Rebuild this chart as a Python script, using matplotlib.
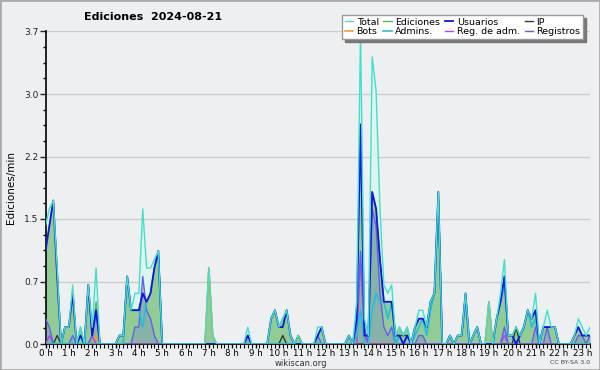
import numpy as np
import matplotlib
matplotlib.use("Agg")
import matplotlib.pyplot as plt
from matplotlib.patches import Rectangle

# edits per minute, 10-minute slots, 0:00 .. 23:20 (one row per hour)
total = [1.4, 1.6, 1.7, 0.9, 0.0, 0.2,
         0.2, 0.7, 0.0, 0.2, 0.0, 0.7,
         0.2, 0.9, 0.0, 0.0, 0.0, 0.0,
         0.0, 0.1, 0.1, 0.8, 0.4, 0.6,
         0.6, 1.6, 0.9, 0.9, 1.0, 1.1,
         0.0, 0.0, 0.0, 0.0, 0.0, 0.0,
         0.0, 0.0, 0.0, 0.0, 0.0, 0.0,
         0.9, 0.1, 0.0, 0.0, 0.0, 0.0,
         0.0, 0.0, 0.0, 0.0, 0.2, 0.0,
         0.0, 0.0, 0.0, 0.0, 0.3, 0.4,
         0.2, 0.3, 0.4, 0.1, 0.0, 0.1,
         0.0, 0.0, 0.0, 0.0, 0.2, 0.2,
         0.0, 0.0, 0.0, 0.0, 0.0, 0.0,
         0.1, 0.0, 0.5, 3.7, 0.3, 0.1,
         3.4, 3.0, 1.6, 0.7, 0.6, 0.7,
         0.1, 0.2, 0.1, 0.2, 0.0, 0.2,
         0.4, 0.4, 0.2, 0.5, 0.6, 1.8,
         0.0, 0.0, 0.1, 0.0, 0.1, 0.1,
         0.6, 0.0, 0.1, 0.2, 0.0, 0.0,
         0.5, 0.0, 0.3, 0.6, 1.0, 0.1,
         0.1, 0.2, 0.1, 0.2, 0.4, 0.3,
         0.6, 0.0, 0.2, 0.4, 0.2, 0.2,
         0.0, 0.0, 0.0, 0.0, 0.1, 0.3,
         0.2, 0.1, 0.2]

edits = [1.1, 1.4, 1.7, 0.9, 0.0, 0.2,
         0.2, 0.6, 0.0, 0.2, 0.0, 0.7,
         0.1, 0.5, 0.0, 0.0, 0.0, 0.0,
         0.0, 0.1, 0.1, 0.8, 0.4, 0.4,
         0.4, 0.6, 0.5, 0.6, 0.9, 1.1,
         0.0, 0.0, 0.0, 0.0, 0.0, 0.0,
         0.0, 0.0, 0.0, 0.0, 0.0, 0.0,
         0.9, 0.1, 0.0, 0.0, 0.0, 0.0,
         0.0, 0.0, 0.0, 0.0, 0.1, 0.0,
         0.0, 0.0, 0.0, 0.0, 0.3, 0.4,
         0.2, 0.3, 0.4, 0.1, 0.0, 0.1,
         0.0, 0.0, 0.0, 0.0, 0.1, 0.2,
         0.0, 0.0, 0.0, 0.0, 0.0, 0.0,
         0.1, 0.0, 0.3, 2.6, 0.1, 0.1,
         1.8, 1.6, 1.0, 0.5, 0.5, 0.5,
         0.1, 0.2, 0.1, 0.2, 0.0, 0.2,
         0.3, 0.3, 0.2, 0.5, 0.6, 1.8,
         0.0, 0.0, 0.1, 0.0, 0.1, 0.1,
         0.6, 0.0, 0.1, 0.2, 0.0, 0.0,
         0.5, 0.0, 0.3, 0.5, 0.8, 0.1,
         0.1, 0.2, 0.1, 0.2, 0.4, 0.3,
         0.4, 0.0, 0.2, 0.2, 0.2, 0.2,
         0.0, 0.0, 0.0, 0.0, 0.1, 0.2,
         0.1, 0.1, 0.1]

users = [1.1, 1.4, 1.7, 0.8, 0.0, 0.2,
         0.2, 0.6, 0.0, 0.1, 0.0, 0.7,
         0.1, 0.4, 0.0, 0.0, 0.0, 0.0,
         0.0, 0.1, 0.1, 0.8, 0.4, 0.4,
         0.4, 0.6, 0.5, 0.6, 0.9, 1.1,
         0.0, 0.0, 0.0, 0.0, 0.0, 0.0,
         0.0, 0.0, 0.0, 0.0, 0.0, 0.0,
         0.0, 0.0, 0.0, 0.0, 0.0, 0.0,
         0.0, 0.0, 0.0, 0.0, 0.1, 0.0,
         0.0, 0.0, 0.0, 0.0, 0.3, 0.4,
         0.2, 0.2, 0.4, 0.1, 0.0, 0.0,
         0.0, 0.0, 0.0, 0.0, 0.1, 0.2,
         0.0, 0.0, 0.0, 0.0, 0.0, 0.0,
         0.1, 0.0, 0.3, 2.6, 0.1, 0.1,
         1.8, 1.6, 1.0, 0.5, 0.5, 0.5,
         0.1, 0.1, 0.0, 0.1, 0.0, 0.2,
         0.3, 0.3, 0.2, 0.5, 0.6, 1.8,
         0.0, 0.0, 0.1, 0.0, 0.1, 0.1,
         0.6, 0.0, 0.1, 0.2, 0.0, 0.0,
         0.0, 0.0, 0.3, 0.5, 0.8, 0.1,
         0.1, 0.0, 0.1, 0.2, 0.4, 0.3,
         0.4, 0.0, 0.2, 0.2, 0.2, 0.2,
         0.0, 0.0, 0.0, 0.0, 0.1, 0.2,
         0.1, 0.1, 0.1]

ip = [0.0, 0.0, 0.0, 0.1, 0.0, 0.0,
      0.0, 0.0, 0.0, 0.1, 0.0, 0.0,
      0.0, 0.0, 0.0, 0.0, 0.0, 0.0,
      0.0, 0.0, 0.0, 0.0, 0.0, 0.0,
      0.0, 0.0, 0.0, 0.0, 0.0, 0.0,
      0.0, 0.0, 0.0, 0.0, 0.0, 0.0,
      0.0, 0.0, 0.0, 0.0, 0.0, 0.0,
      0.0, 0.0, 0.0, 0.0, 0.0, 0.0,
      0.0, 0.0, 0.0, 0.0, 0.0, 0.0,
      0.0, 0.0, 0.0, 0.0, 0.0, 0.0,
      0.0, 0.1, 0.0, 0.0, 0.0, 0.1,
      0.0, 0.0, 0.0, 0.0, 0.0, 0.0,
      0.0, 0.0, 0.0, 0.0, 0.0, 0.0,
      0.0, 0.0, 0.0, 0.0, 0.0, 0.0,
      0.0, 0.0, 0.0, 0.0, 0.0, 0.0,
      0.0, 0.1, 0.1, 0.1, 0.0, 0.0,
      0.0, 0.0, 0.0, 0.0, 0.0, 0.0,
      0.0, 0.0, 0.0, 0.0, 0.0, 0.0,
      0.0, 0.0, 0.0, 0.0, 0.0, 0.0,
      0.0, 0.0, 0.0, 0.0, 0.0, 0.0,
      0.0, 0.2, 0.0, 0.0, 0.0, 0.0,
      0.0, 0.0, 0.0, 0.0, 0.0, 0.0,
      0.0, 0.0, 0.0, 0.0, 0.0, 0.0,
      0.0, 0.0, 0.0]

bots = [0.0, 0.0, 0.0, 0.0, 0.0, 0.0,
        0.0, 0.0, 0.0, 0.0, 0.0, 0.0,
        0.0, 0.1, 0.0, 0.0, 0.0, 0.0,
        0.0, 0.0, 0.0, 0.0, 0.0, 0.0,
        0.0, 0.0, 0.0, 0.0, 0.0, 0.0,
        0.0, 0.0, 0.0, 0.0, 0.0, 0.0,
        0.0, 0.0, 0.0, 0.0, 0.0, 0.0,
        0.9, 0.1, 0.0, 0.0, 0.0, 0.0,
        0.0, 0.0, 0.0, 0.0, 0.0, 0.0,
        0.0, 0.0, 0.0, 0.0, 0.0, 0.0,
        0.0, 0.0, 0.0, 0.0, 0.0, 0.0,
        0.0, 0.0, 0.0, 0.0, 0.0, 0.0,
        0.0, 0.0, 0.0, 0.0, 0.0, 0.0,
        0.0, 0.0, 0.0, 0.0, 0.0, 0.0,
        0.0, 0.0, 0.0, 0.0, 0.0, 0.0,
        0.0, 0.0, 0.0, 0.0, 0.0, 0.0,
        0.0, 0.0, 0.0, 0.0, 0.0, 0.0,
        0.0, 0.0, 0.0, 0.0, 0.0, 0.0,
        0.0, 0.0, 0.0, 0.0, 0.0, 0.0,
        0.5, 0.0, 0.0, 0.0, 0.0, 0.0,
        0.0, 0.0, 0.0, 0.0, 0.0, 0.0,
        0.0, 0.0, 0.0, 0.0, 0.0, 0.0,
        0.0, 0.0, 0.0, 0.0, 0.0, 0.0,
        0.0, 0.0, 0.0]

admins = [0.0, 0.0, 0.0, 0.0, 0.0, 0.0,
          0.0, 0.0, 0.0, 0.0, 0.0, 0.0,
          0.0, 0.0, 0.0, 0.0, 0.0, 0.0,
          0.0, 0.0, 0.0, 0.8, 0.4, 0.4,
          0.4, 0.2, 0.5, 0.6, 0.9, 1.1,
          0.0, 0.0, 0.0, 0.0, 0.0, 0.0,
          0.0, 0.0, 0.0, 0.0, 0.0, 0.0,
          0.0, 0.0, 0.0, 0.0, 0.0, 0.0,
          0.0, 0.0, 0.0, 0.0, 0.0, 0.0,
          0.0, 0.0, 0.0, 0.0, 0.0, 0.0,
          0.0, 0.0, 0.0, 0.0, 0.0, 0.0,
          0.0, 0.0, 0.0, 0.0, 0.0, 0.0,
          0.0, 0.0, 0.0, 0.0, 0.0, 0.0,
          0.0, 0.0, 0.1, 0.4, 0.0, 0.0,
          0.4, 0.6, 0.5, 0.5, 0.3, 0.5,
          0.0, 0.1, 0.0, 0.1, 0.0, 0.1,
          0.2, 0.3, 0.1, 0.4, 0.6, 1.7,
          0.0, 0.0, 0.1, 0.0, 0.1, 0.1,
          0.5, 0.0, 0.1, 0.2, 0.0, 0.0,
          0.0, 0.0, 0.3, 0.5, 0.7, 0.1,
          0.1, 0.0, 0.1, 0.2, 0.4, 0.2,
          0.3, 0.0, 0.2, 0.2, 0.2, 0.2,
          0.0, 0.0, 0.0, 0.0, 0.0, 0.0,
          0.0, 0.0, 0.0]

admin_logs = [0.0, 0.1, 0.0, 0.0, 0.0, 0.0,
              0.0, 0.0, 0.0, 0.0, 0.0, 0.0,
              0.1, 0.0, 0.0, 0.0, 0.0, 0.0,
              0.0, 0.0, 0.0, 0.0, 0.0, 0.0,
              0.0, 0.0, 0.0, 0.0, 0.0, 0.0,
              0.0, 0.0, 0.0, 0.0, 0.0, 0.0,
              0.0, 0.0, 0.0, 0.0, 0.0, 0.0,
              0.0, 0.0, 0.0, 0.0, 0.0, 0.0,
              0.0, 0.0, 0.0, 0.0, 0.0, 0.0,
              0.0, 0.0, 0.0, 0.0, 0.0, 0.0,
              0.0, 0.0, 0.0, 0.0, 0.0, 0.0,
              0.0, 0.0, 0.0, 0.0, 0.0, 0.0,
              0.0, 0.0, 0.0, 0.0, 0.0, 0.0,
              0.0, 0.0, 0.0, 1.0, 0.1, 0.0,
              0.0, 0.0, 0.0, 0.0, 0.0, 0.0,
              0.0, 0.0, 0.0, 0.0, 0.0, 0.0,
              0.0, 0.0, 0.0, 0.0, 0.0, 0.0,
              0.0, 0.0, 0.0, 0.0, 0.0, 0.0,
              0.0, 0.0, 0.0, 0.0, 0.0, 0.0,
              0.0, 0.0, 0.0, 0.0, 0.1, 0.0,
              0.0, 0.0, 0.0, 0.0, 0.0, 0.0,
              0.0, 0.0, 0.0, 0.0, 0.0, 0.0,
              0.0, 0.0, 0.0, 0.0, 0.0, 0.0,
              0.0, 0.0, 0.0]

logs = [0.3, 0.2, 0.0, 0.0, 0.0, 0.0,
        0.0, 0.1, 0.0, 0.0, 0.0, 0.0,
        0.1, 0.4, 0.0, 0.0, 0.0, 0.0,
        0.0, 0.0, 0.0, 0.0, 0.0, 0.2,
        0.2, 0.8, 0.4, 0.3, 0.1, 0.0,
        0.0, 0.0, 0.0, 0.0, 0.0, 0.0,
        0.0, 0.0, 0.0, 0.0, 0.0, 0.0,
        0.0, 0.0, 0.0, 0.0, 0.0, 0.0,
        0.0, 0.0, 0.0, 0.0, 0.1, 0.0,
        0.0, 0.0, 0.0, 0.0, 0.0, 0.0,
        0.0, 0.0, 0.0, 0.0, 0.0, 0.0,
        0.0, 0.0, 0.0, 0.0, 0.1, 0.0,
        0.0, 0.0, 0.0, 0.0, 0.0, 0.0,
        0.0, 0.0, 0.2, 1.1, 0.2, 0.0,
        1.6, 1.4, 0.6, 0.2, 0.1, 0.2,
        0.0, 0.0, 0.0, 0.0, 0.0, 0.0,
        0.1, 0.1, 0.0, 0.0, 0.0, 0.0,
        0.0, 0.0, 0.0, 0.0, 0.0, 0.0,
        0.0, 0.0, 0.0, 0.0, 0.0, 0.0,
        0.0, 0.0, 0.0, 0.0, 0.2, 0.0,
        0.0, 0.0, 0.0, 0.0, 0.0, 0.0,
        0.2, 0.0, 0.0, 0.2, 0.0, 0.0,
        0.0, 0.0, 0.0, 0.0, 0.0, 0.1,
        0.1, 0.0, 0.1]

hours = list(range(24))
hour_labels = ['%d h' % h for h in hours]

BG = '#eeeff1'
slots = np.arange(len(total))

fig = plt.figure(figsize=(6, 3.7), dpi=100, facecolor=BG)
ax = fig.add_axes([45.5 / 600, 26 / 370, 544.5 / 600, 312.5 / 370], facecolor=BG)

# fills
ax.fill_between(slots, total, color='#dcf5ee', lw=0, zorder=1)
ax.fill_between(slots, edits, color='#93cb95', lw=0, zorder=2)
ax.fill_between(slots, logs, color='#6a6ad8', alpha=0.25, lw=0, zorder=3)

# lines
l_ed, = ax.plot(slots, edits, color='#55bb55', lw=1, zorder=4)
l_bot, = ax.plot(slots, bots, color='#f0a030', lw=1.2, zorder=5)
l_ip, = ax.plot(slots, ip, color='#303a30', lw=1, zorder=5)
l_ra, = ax.plot(slots, admin_logs, color='#c040e0', lw=1, zorder=5)
l_log, = ax.plot(slots, logs, color='#6060f0', lw=1, zorder=6)
l_adm, = ax.plot(slots, admins, color='#22c0dd', lw=1.2, zorder=7)
l_us, = ax.plot(slots, users, color='#1414e0', lw=1.3, zorder=8)
l_tot, = ax.plot(slots, total, color='#40e0cc', lw=1, zorder=9)

ax.set_xlim(0, 140)
ax.set_ylim(0, 3.7)

yt = np.linspace(0, 3.7, 6)
ax.set_yticks(yt)
ax.set_yticklabels(['%.1f' % v for v in yt])
ax.set_yticks(np.linspace(0, 3.7, 21), minor=True)
ax.set_xticks([h * 6 for h in hours])
ax.set_xticklabels(hour_labels)
ax.set_xticks(slots, minor=True)
ax.tick_params(axis='y', which='major', length=4, width=1, labelsize=6.5, pad=1, colors='#222222')
ax.tick_params(axis='y', which='minor', length=2.5, width=1)
ax.tick_params(axis='x', which='major', length=3, width=1, labelsize=6.3, pad=0.5)
ax.tick_params(axis='x', which='minor', length=3, width=0.8)

for v in yt[1:]:
    ax.axhline(v, color='#cccccc', lw=1, zorder=0)

for s in ['top', 'right']:
    ax.spines[s].set_visible(False)
ax.spines['left'].set_linewidth(1.2)
ax.spines['bottom'].set_linewidth(1.2)

ax.set_ylabel('Ediciones/min', fontsize=7.5, labelpad=6)

handles = [l_tot, l_bot, l_ed, l_adm, l_us, l_ra, l_ip, l_log]
labels = ['Total', 'Bots', 'Ediciones', 'Admins.', 'Usuarios', 'Reg. de adm.', 'IP', 'Registros']
leg = ax.legend(handles, labels, ncol=4, loc='upper right',
                bbox_to_anchor=(588 / 600, 1 - 10 / 370), bbox_transform=fig.transFigure,
                fontsize=6.8, handlelength=0.9, handletextpad=0.35, columnspacing=0.5,
                borderpad=0.3, labelspacing=0.05, fancybox=False,
                shadow={'color': '#777777', 'alpha': 1},
                framealpha=1, edgecolor='#999999')
leg.set_zorder(20)

fig.text(153 / 600, 1 - 17 / 370, 'Ediciones  2024-08-21', fontsize=8, fontweight='bold',
         ha='center', va='center')
fig.text(301 / 600, 1 - 363 / 370, 'wikiscan.org', fontsize=6, ha='center', va='center', color='#333333')
fig.text(590 / 600, 1 - 363 / 370, 'CC BY-SA 3.0', fontsize=4.5, ha='right', va='center', color='#444444')

fig.patches.append(Rectangle((0, 0), 1, 1, transform=fig.transFigure, fill=False,
                             edgecolor='#aaaaaa', lw=2))

fig.savefig('out.png', dpi=100, facecolor=BG)
